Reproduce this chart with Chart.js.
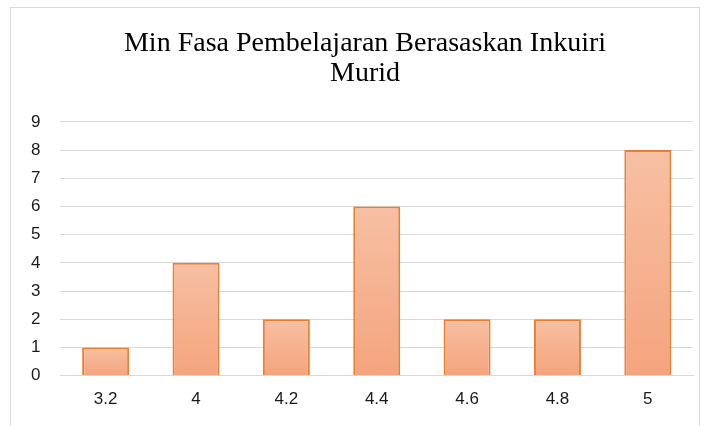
<!DOCTYPE html>
<html>
<head>
<meta charset="utf-8">
<script src="https://cdn.jsdelivr.net/npm/chart.js@4/dist/chart.umd.min.js"></script>
<style>
  html, body { margin: 0; padding: 0; background: #fff; overflow: hidden; }
  .frame { position: absolute; left: 10px; top: 7px; width: 688px; height: 440px; border: 1px solid #d9d9d9; background: #fff; }
  .frame canvas { position: absolute; left: 0; top: 0; }
</style>
</head>
<body>
<div class="frame"><canvas id="c" width="688" height="418"></canvas></div>
<script>
  // data
  const categories = ['3.2', '4', '4.2', '4.4', '4.6', '4.8', '5'];
  const counts = [1, 4, 2, 6, 2, 2, 8];
  const titleLines = ['Min Fasa Pembelajaran Berasaskan Inkuiri', 'Murid'];

  const TICK = '#1a1a1a';
  const GRID = '#d9d9d9';
  const SANS = 'Liberation Sans, Arial, sans-serif';

  // per-bar vertical gradient, like the Office fill
  function barFill(c) {
    const chart = c.chart, y = chart.scales.y;
    if (!chart.chartArea || !y || c.raw == null) return '#f5ae8a';
    const top = y.getPixelForValue(c.raw), bot = y.getPixelForValue(0);
    if (!isFinite(top) || !isFinite(bot)) return '#f5ae8a';
    const g = chart.ctx.createLinearGradient(0, top, 0, bot);
    g.addColorStop(0, '#f7c0a3');
    g.addColorStop(1, '#f4a47d');
    return g;
  }

  // the title sits a bit right of the canvas centre in the original
  const titleNudge = {
    id: 'titleNudge',
    afterLayout(chart) {
      const t = chart.titleBlock; if (!t) return;
      t.left += 13; t.right += 13;
    },
  };

  new Chart(document.getElementById('c'), {
    type: 'bar',
    data: {
      labels: categories,
      datasets: [{
        data: counts,
        backgroundColor: barFill,
        borderColor: '#ed7d31',
        borderWidth: 2,
        borderSkipped: 'bottom',
        barPercentage: 0.52,
        categoryPercentage: 1,
      }],
    },
    options: {
      responsive: false, animation: false,
      layout: { padding: { left: 0, right: 6, top: 21, bottom: 2 } },
      plugins: {
        legend: { display: false },
        tooltip: { enabled: false },
        title: {
          display: true, text: titleLines, color: '#000',
          font: { family: 'Liberation Serif, Times New Roman, serif', size: 28, weight: 'normal', lineHeight: 1.07 },
          padding: { top: 0, bottom: 33 },
        },
      },
      scales: {
        x: {
          grid: { display: false, drawTicks: false },
          border: { color: GRID, width: 1 },
          ticks: { color: TICK, padding: 14, font: { family: SANS, size: 17 } },
        },
        y: {
          min: 0, max: 9,
          grid: { color: GRID, lineWidth: 1, drawTicks: false },
          border: { display: false },
          ticks: { stepSize: 1, color: TICK, padding: 20, font: { family: SANS, size: 17 } },
        },
      },
    },
    plugins: [titleNudge],
  });
</script>
</body>
</html>
